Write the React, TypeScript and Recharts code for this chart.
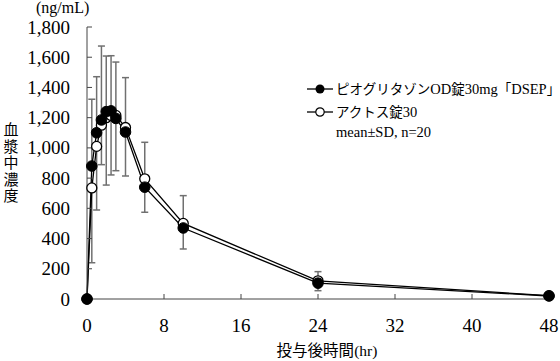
import React from "react";
import { LineChart, Line, XAxis, YAxis, ErrorBar } from "recharts";

// sampling times (hr)
const times = [0, 0.5, 1, 1.5, 2, 2.5, 3, 4, 6, 10, 24, 48];
// ピオグリタゾンOD錠30mg「DSEP」 mean (ng/mL)
const generic = [0, 880, 1100, 1185, 1240, 1245, 1195, 1105, 740, 470, 105, 20];
const genericSD = [0, 442, 371, 489, 368, 365, 373, 360, 297, 214, 76, 10];
// アクトス錠30 mean (ng/mL)
const actos = [0, 735, 1010, 1150, 1200, 1215, 1215, 1135, 795, 500, 120, 22];
const actosSD = [0, 495, 421, 261, 446, 394, 366, 321, 221, 169, 65, 10];

const xTicks = [0, 8, 16, 24, 32, 40, 48];
const yTicks = [0, 200, 400, 600, 800, 1000, 1200, 1400, 1600, 1800];

const data = times.map((t, i) => ({
  t,
  generic: generic[i],
  actos: actos[i],
  genericErr: [0, genericSD[i]],
  actosErr: [actosSD[i], 0],
}));

const SERIF = "Liberation Serif, DejaVu Serif, serif";
const JP = "Noto Sans CJK JP, sans-serif";
const AXIS = "#444";

const OpenDot = (props: any) => {
  const { cx, cy } = props;
  return <circle cx={cx} cy={cy} r={5} fill="#fff" stroke="#000" strokeWidth={1.3} />;
};
const FilledDot = (props: any) => {
  const { cx, cy } = props;
  return <circle cx={cx} cy={cy} r={5.3} fill="#000" stroke="#000" />;
};

const XTick = (props: any) => {
  const { x, y, payload } = props;
  return (
    <text x={x} y={y} dy={14} textAnchor="middle" fill="#000" fontSize={19} fontFamily={SERIF}>
      {payload.value}
    </text>
  );
};
const YTick = (props: any) => {
  const { x, y, payload } = props;
  return (
    <text x={x} y={y} dy={6.5} textAnchor="end" fill="#000" fontSize={19} fontFamily={SERIF}>
      {Number(payload.value).toLocaleString("en-US")}
    </text>
  );
};

export default function App() {
  return (
    <div style={{ position: "absolute", left: 0, top: 0, width: 560, height: 361, background: "#fff", fontFamily: SERIF }}>
      <LineChart width={560} height={361} data={data} margin={{ top: 27, right: 11, bottom: 0, left: 0 }} style={{ fontFamily: SERIF }}>
        <XAxis
          dataKey="t"
          type="number"
          domain={[0, 48]}
          ticks={xTicks}
          height={62}
          stroke={AXIS}
          tickSize={-5}
          tickMargin={24}
          tick={<XTick />}
        />
        <YAxis
          type="number"
          domain={[0, 1800]}
          ticks={yTicks}
          width={87}
          stroke={AXIS}
          tickSize={-5}
          tickMargin={22}
          tick={<YTick />}
        />
        <Line dataKey="generic" stroke="none" dot={false} activeDot={false} isAnimationActive={false}>
          <ErrorBar dataKey="genericErr" direction="y" width={3.5} stroke="#707070" strokeWidth={1.5} />
        </Line>
        <Line dataKey="actos" stroke="none" dot={false} activeDot={false} isAnimationActive={false}>
          <ErrorBar dataKey="actosErr" direction="y" width={3.5} stroke="#707070" strokeWidth={1.5} />
        </Line>
        <Line dataKey="actos" stroke="#000" strokeWidth={1.3} dot={<OpenDot />} activeDot={false} isAnimationActive={false} />
        <Line dataKey="generic" stroke="#000" strokeWidth={1.3} dot={<FilledDot />} activeDot={false} isAnimationActive={false} />
      </LineChart>

      <div style={{ position: "absolute", left: 36, top: -1, fontSize: 16, lineHeight: "18px" }}>(ng/mL)</div>
      <div style={{ position: "absolute", left: 2, top: 121, width: 18, fontSize: 15, lineHeight: "16.6px", textAlign: "center", fontFamily: JP }}>
        {"血漿中濃度".split("").map((c) => (
          <div key={c}>{c}</div>
        ))}
      </div>
      <div style={{ position: "absolute", left: 0, width: 654, top: 341, textAlign: "center", fontSize: 15.5, lineHeight: "17px", whiteSpace: "nowrap" }}>
        <span style={{ fontFamily: JP }}>投与後時間</span>(hr)
      </div>

      <div style={{ position: "absolute", left: 306, top: 77, fontSize: 14, lineHeight: "22px", whiteSpace: "nowrap" }}>
        <div style={{ display: "flex", alignItems: "center" }}>
          <svg width={28} height={12} style={{ marginRight: 2 }}>
            <line x1={1} y1={6} x2={27} y2={6} stroke="#000" strokeWidth={1.3} />
            <circle cx={14} cy={6} r={4.5} fill="#000" />
          </svg>
          <span style={{ fontSize: 14.5 }}>
            <span style={{ fontFamily: JP, fontSize: 13.5 }}>ピオグリタゾン</span>OD<span style={{ fontFamily: JP, fontSize: 13.5 }}>錠</span>30mg
            <span style={{ fontFamily: JP, fontSize: 13.5 }}>「</span>DSEP<span style={{ fontFamily: JP, fontSize: 13.5 }}>」</span>
          </span>
        </div>
        <div style={{ display: "flex", alignItems: "center" }}>
          <svg width={28} height={12} style={{ marginRight: 2 }}>
            <line x1={1} y1={6} x2={27} y2={6} stroke="#000" strokeWidth={1.3} />
            <circle cx={14} cy={6} r={4.2} fill="#fff" stroke="#000" strokeWidth={1.2} />
          </svg>
          <span style={{ fontSize: 14.5 }}>
            <span style={{ fontFamily: JP, fontSize: 13.5 }}>アクトス錠</span>30
          </span>
        </div>
        <div style={{ paddingLeft: 30, marginTop: -2, fontSize: 14.5 }}>mean±SD, n=20</div>
      </div>
    </div>
  );
}
